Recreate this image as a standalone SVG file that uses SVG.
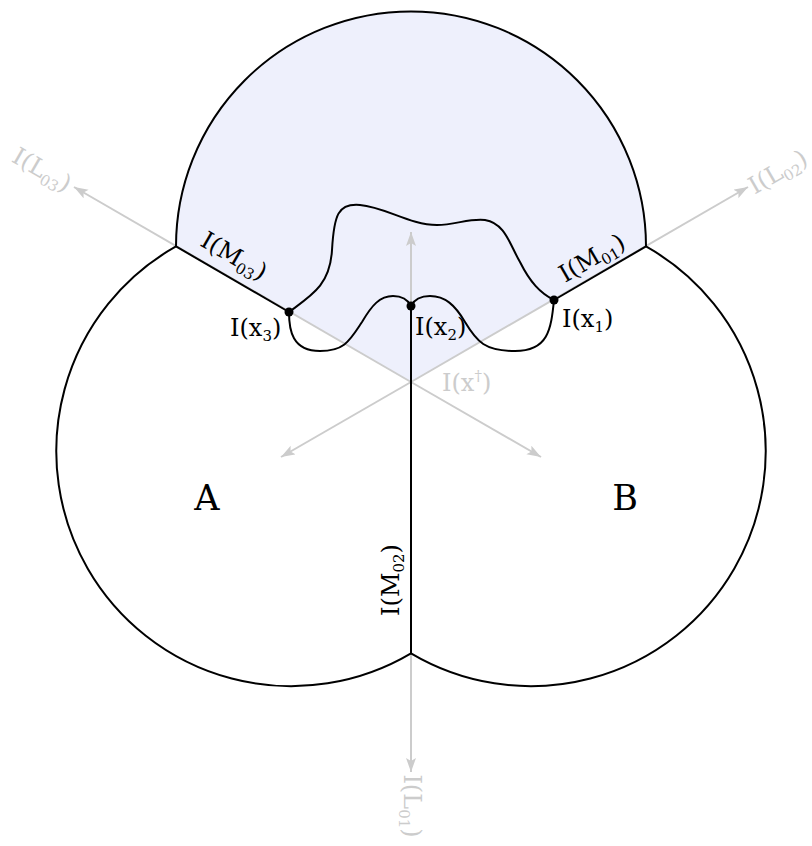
<svg xmlns="http://www.w3.org/2000/svg" width="812" height="846" viewBox="0 0 812 846">
<style>
.lbl{font-family:"DejaVu Serif","Liberation Serif",serif;font-size:24px;fill:#000}
.gl{font-family:"DejaVu Serif","Liberation Serif",serif;font-size:24px;fill:#cccccc}
.big{font-family:"DejaVu Serif","Liberation Serif",serif;font-size:35px;fill:#000}
.sub{font-size:15px}
.ray{stroke:#cccccc;stroke-width:2;fill:none;marker-end:url(#ah)}
.blk{stroke:#000;stroke-width:2;fill:none}
.dot{fill:#000}
</style>
<defs>
<marker id="ah" markerUnits="userSpaceOnUse" markerWidth="16" markerHeight="12" refX="14" refY="5" orient="auto">
<path d="M0,0 L14,5 L0,10 L3,5 z" fill="#cccccc"/>
</marker>
</defs>
<g id="shade">
<path d="M176,246.4 A235,235 0 1 1 646,246.4 L411,382 Z" fill="#eef0fc"/>
</g>
<g id="connectors">
<line class="ray" x1="411" y1="382" x2="74" y2="187"/>
<line class="ray" x1="411" y1="382" x2="748" y2="187"/>
<line class="ray" x1="411" y1="382" x2="411" y2="772"/>
<line class="ray" x1="411" y1="382" x2="411" y2="232"/>
<line class="ray" x1="411" y1="382" x2="281" y2="457"/>
<line class="ray" x1="411" y1="382" x2="541" y2="457"/>
<line class="blk" x1="176" y1="246.4" x2="289" y2="312"/>
<line class="blk" x1="646" y1="246.4" x2="554" y2="300"/>
<line class="blk" x1="411" y1="306" x2="411" y2="653.4"/>
<path class="blk" d="M289,312 C312,295 330,285 332,250 C334,215 338,203 360,205 C385,207 410,225 437,225 C455,225 470,218 485,220 C505,223 510,245 520,262 C530,282 540,293 554,300"/>
<path class="blk" d="M289,312 C289,330 292,351 320,351 C345,351 350,340 362,322 C372,305 380,296 393,296 C403,296 408,300 411,306 C414,300 420,296 430,296 C445,296 455,305 465,322 C477,342 485,351 515,351 C548,351 551,330 554,300"/>
</g>
<g id="outline">
<path class="blk" d="M176,246.4 A235,235 0 1 1 646,246.4 A235,235 0 1 1 411,653.4 A235,235 0 1 1 176,246.4 Z"/>
</g>
<g id="x3"><circle class="dot" cx="289" cy="312" r="4.5"/><text class="lbl" x="230" y="336">I(x<tspan class="sub" dy="5">3</tspan><tspan dy="-5">)</tspan></text></g>
<g id="x2"><circle class="dot" cx="411" cy="306" r="4.5"/><text class="lbl" x="415" y="335">I(x<tspan class="sub" dy="5">2</tspan><tspan dy="-5">)</tspan></text></g>
<g id="x1"><circle class="dot" cx="554" cy="300" r="4.5"/><text class="lbl" x="562" y="327">I(x<tspan class="sub" dy="5">1</tspan><tspan dy="-5">)</tspan></text></g>
<g id="xdag"><text class="gl" x="442" y="391">I(x<tspan class="sub" dy="-10">†</tspan><tspan dy="10">)</tspan></text></g>
<g id="M03"><text class="lbl" transform="translate(234,256) rotate(30)" text-anchor="middle" y="8">I(M<tspan class="sub" dy="5">03</tspan><tspan dy="-5">)</tspan></text></g>
<g id="M01"><text class="lbl" transform="translate(592,258) rotate(-30)" text-anchor="middle" y="8">I(M<tspan class="sub" dy="5">01</tspan><tspan dy="-5">)</tspan></text></g>
<g id="M02"><text class="lbl" transform="translate(391,580) rotate(-90)" text-anchor="middle" y="8">I(M<tspan class="sub" dy="5">02</tspan><tspan dy="-5">)</tspan></text></g>
<g id="L03"><text class="gl" transform="translate(42,170) rotate(30)" text-anchor="middle" y="8">I(L<tspan class="sub" dy="5">03</tspan><tspan dy="-5">)</tspan></text></g>
<g id="L02"><text class="gl" transform="translate(778,172) rotate(-30)" text-anchor="middle" y="8">I(L<tspan class="sub" dy="5">02</tspan><tspan dy="-5">)</tspan></text></g>
<g id="L01"><text class="gl" transform="translate(412,806) rotate(90)" text-anchor="middle" y="8">I(L<tspan class="sub" dy="5">01</tspan><tspan dy="-5">)</tspan></text></g>
<g id="A"><text class="big" x="207" y="510" text-anchor="middle">A</text></g>
<g id="B"><text class="big" x="625" y="510" text-anchor="middle">B</text></g>
</svg>
